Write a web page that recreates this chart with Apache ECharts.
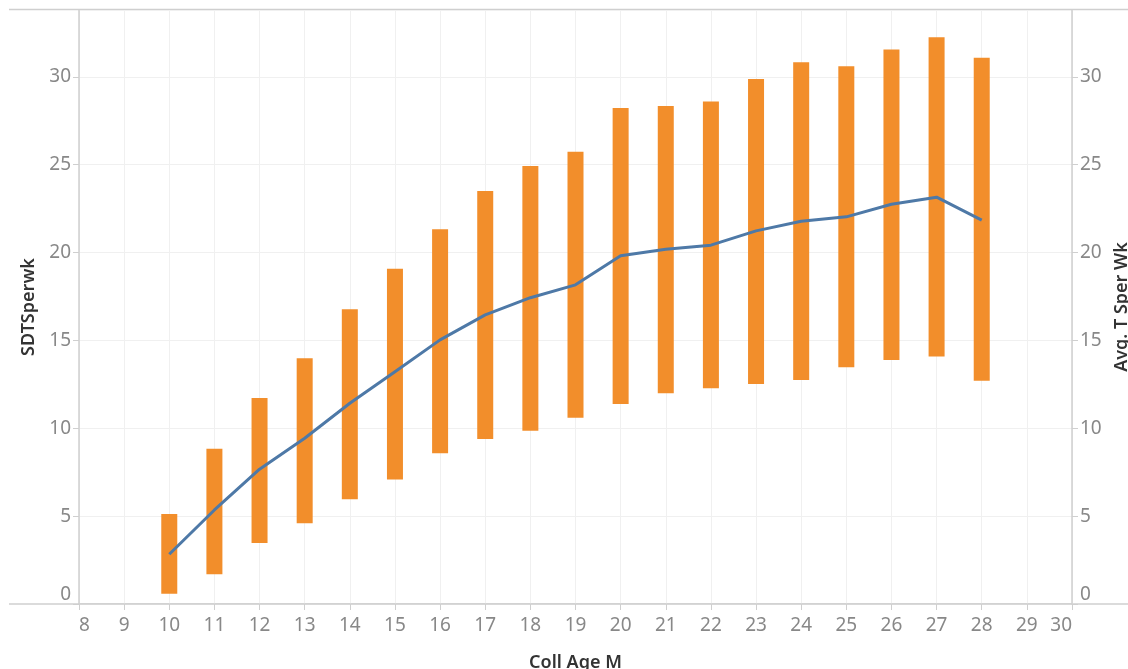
<!DOCTYPE html>
<html>
<head>
<meta charset="utf-8">
<script src="https://cdn.jsdelivr.net/npm/echarts@6/dist/echarts.min.js"></script>
<style>
html,body{margin:0;padding:0;background:#fff;}
#chart{width:1128px;height:669px;}
</style>
</head>
<body>
<div id="chart"></div>
<script>
// Coll Age M categories
const ages = [10, 11, 12, 13, 14, 15, 16, 17, 18, 19, 20, 21, 22, 23, 24, 25, 26, 27, 28];
// SDTSperwk range bars: lower and upper ends
const barLow  = [0.59, 1.69, 3.47, 4.59, 5.96, 7.08, 8.58, 9.39, 9.86, 10.6, 11.38, 11.99, 12.28, 12.52, 12.75, 13.47, 13.89, 14.08, 12.71];
const barHigh = [5.12, 8.84, 11.72, 13.98, 16.77, 19.07, 21.33, 23.5, 24.93, 25.74, 28.23, 28.34, 28.59, 29.88, 30.83, 30.6, 31.55, 32.25, 31.08];
// Avg. T Sper Wk line
const avgT = [2.83, 5.35, 7.67, 9.43, 11.42, 13.22, 15.03, 16.45, 17.43, 18.16, 19.82, 20.19, 20.42, 21.23, 21.78, 22.03, 22.75, 23.15, 21.84];
// axis ticks
const xTicks = [8, 9, 10, 11, 12, 13, 14, 15, 16, 17, 18, 19, 20, 21, 22, 23, 24, 25, 26, 27, 28, 29, 30];
const yTicks = [0, 5, 10, 15, 20, 25, 30];

const chart = echarts.init(document.getElementById('chart'), null, {renderer: 'canvas'});
const tickFont = {color: '#888888', fontSize: 19, fontFamily: 'Noto Sans'};
const nameFont = {color: '#333333', fontSize: 18, fontWeight: 600, fontFamily: 'Noto Sans'};
const lineCol = '#cfcfcf';
const gridCol = '#f0f0f0';

const rangeData = ages.map((a, i) => [a, barLow[i], barHigh[i]]);

chart.setOption({
  animation: false,
  backgroundColor: '#ffffff',
  grid: {left: 79, right: 56, top: 10, bottom: 65, containLabel: false, outerBoundsMode: 'none'},
  graphic: [
    {type: 'line', shape: {x1: 9, y1: 9.5, x2: 1128, y2: 9.5}, style: {stroke: lineCol, lineWidth: 1.5}, silent: true},
    {type: 'line', shape: {x1: 9, y1: 604, x2: 1128, y2: 604}, style: {stroke: lineCol, lineWidth: 1.5}, silent: true}
  ],
  xAxis: {
    type: 'value',
    min: xTicks[0], max: xTicks[xTicks.length - 1], interval: 1,
    name: 'Coll Age M', nameLocation: 'middle', nameGap: 50,
    nameTextStyle: nameFont,
    axisLine: {show: true, lineStyle: {color: lineCol, width: 1.5}},
    axisTick: {show: true, length: 6, lineStyle: {color: lineCol}},
    axisLabel: Object.assign({margin: 12, alignMinLabel: 'left', alignMaxLabel: 'right'}, tickFont),
    splitLine: {show: true, lineStyle: {color: gridCol, width: 1}}
  },
  yAxis: [
    {
      type: 'value', position: 'left',
      min: yTicks[0], max: 33.8, interval: 5,
      name: 'SDTSperwk', nameLocation: 'middle', nameGap: 36, nameRotate: 90,
      nameTextStyle: nameFont,
      axisLine: {show: true, lineStyle: {color: lineCol, width: 1.5}},
      axisTick: {show: true, length: 6, lineStyle: {color: lineCol}},
      axisLabel: Object.assign({margin: 8, verticalAlignMinLabel: 'bottom', showMaxLabel: false}, tickFont),
      splitLine: {show: true, lineStyle: {color: gridCol, width: 1}}
    },
    {
      type: 'value', position: 'right',
      min: yTicks[0], max: 33.8, interval: 5,
      name: 'Avg. T Sper Wk', nameLocation: 'middle', nameGap: 37, nameRotate: 90,
      nameTextStyle: nameFont,
      axisLine: {show: true, lineStyle: {color: lineCol, width: 1.5}},
      axisTick: {show: true, length: 6, lineStyle: {color: lineCol}},
      axisLabel: Object.assign({margin: 8, verticalAlignMinLabel: 'bottom', showMaxLabel: false}, tickFont),
      splitLine: {show: false}
    }
  ],
  series: [
    {
      name: 'SDTSperwk',
      type: 'custom',
      yAxisIndex: 0,
      encode: {x: 0, y: [1, 2]},
      data: rangeData,
      renderItem: function (params, api) {
        const x = api.value(0);
        const lo = api.coord([x, api.value(1)]);
        const hi = api.coord([x, api.value(2)]);
        const w = 16;
        return {
          type: 'rect',
          shape: {x: lo[0] - w / 2, y: hi[1], width: w, height: lo[1] - hi[1]},
          style: {fill: '#F28E2B'}
        };
      },
      z: 2
    },
    {
      name: 'Avg. T Sper Wk',
      type: 'line',
      yAxisIndex: 1,
      data: ages.map((a, i) => [a, avgT[i]]),
      showSymbol: false,
      symbol: 'none',
      lineStyle: {color: '#4E79A7', width: 3},
      z: 3
    }
  ]
});
</script>
</body>
</html>
